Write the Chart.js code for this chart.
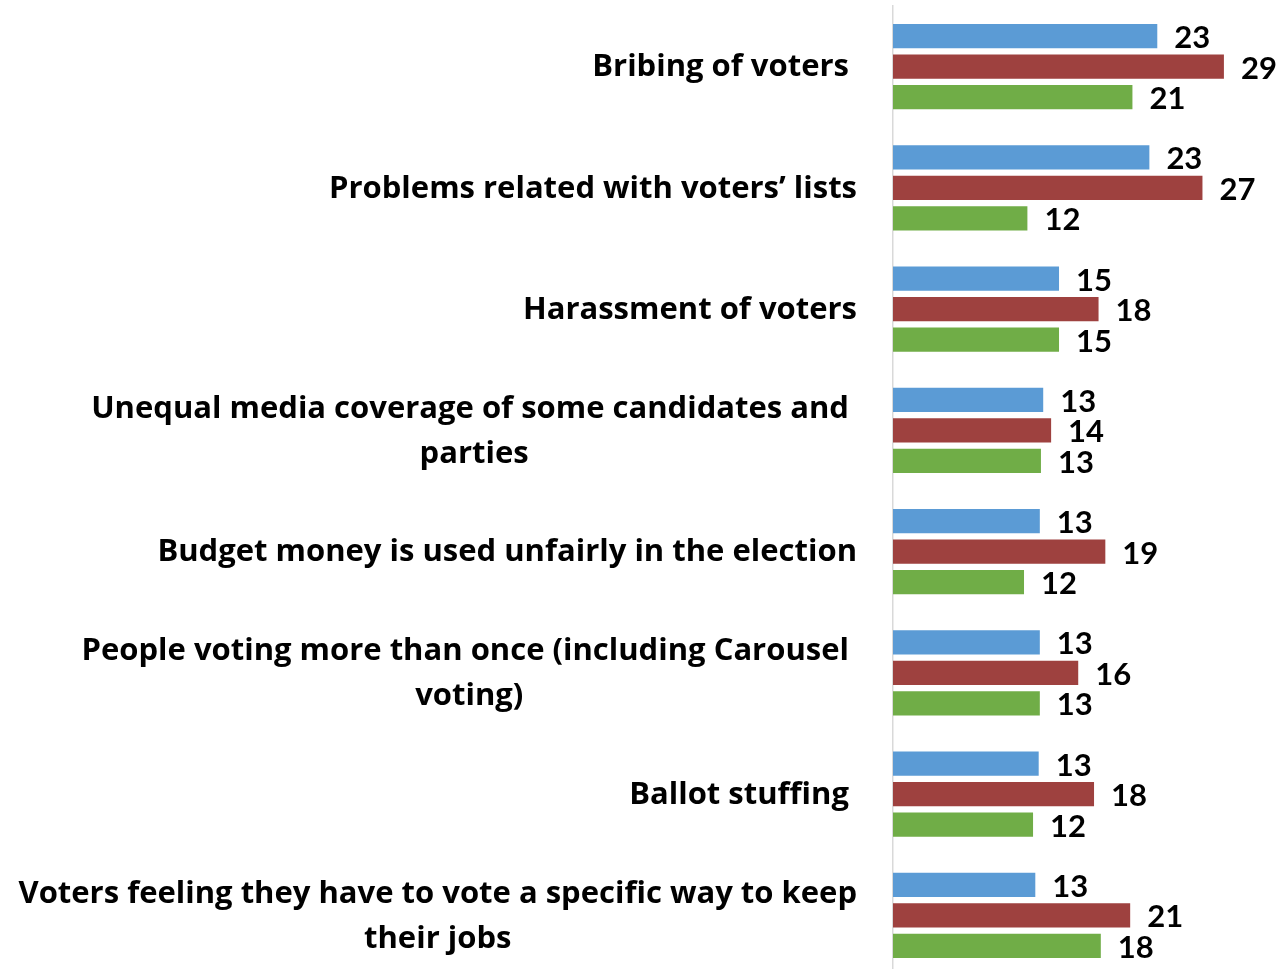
<!DOCTYPE html>
<html>
<head>
<meta charset="utf-8">
<script src="https://cdn.jsdelivr.net/npm/chart.js@4"></script>
<style>
  html, body { margin: 0; padding: 0; background: #fff; overflow: hidden; }
  #wrap { position: relative; width: 1278px; height: 978px; }
</style>
</head>
<body>
<div id="wrap"><canvas id="chart"></canvas></div>
<script>
// categories (lines of each label)
const categories = [
    ['Bribing of voters '],
    ['Problems related with voters\u2019 lists'],
    ['Harassment of voters'],
    ['Unequal media coverage of some candidates and ', 'parties'],
    ['Budget money is used unfairly in the election'],
    ['People voting more than once (including Carousel ', 'voting)'],
    ['Ballot stuffing '],
    ['Voters feeling they have to vote a specific way to keep', 'their jobs']
];

// series values
const series1 = [23.4, 22.7, 14.7, 13.3, 13.0, 13.0, 12.9, 12.6];
const series2 = [29.3, 27.4, 18.2, 14.0, 18.8, 16.4, 17.8, 21.0];
const series3 = [21.2, 11.9, 14.7, 13.1, 11.6, 13.0, 12.4, 18.4];

const seriesNames = ['Series 1', 'Series 2', 'Series 3'];
const seriesColors = ['#5B9BD5', '#9E413F', '#70AD47'];

const LABEL_FONT = 'bold 31px "Open Sans"';
const VALUE_FONT = 'bold 31px Lato';

// category labels on the left, lines centred on the widest line, right edge fixed
const categoryLabels = {
    id: 'categoryLabels',
    afterDraw(chart) {
        const ctx = chart.ctx;
        const yScale = chart.scales.y;
        const right = chart.chartArea.left - 36;
        const lineH = 45;
        ctx.save();
        ctx.font = LABEL_FONT;
        ctx.fillStyle = '#000';
        ctx.textAlign = 'center';
        ctx.textBaseline = 'middle';
        categories.forEach((lines, i) => {
            const cy = yScale.getPixelForValue(i) + 1;
            const maxW = Math.max(...lines.map(l => ctx.measureText(l).width));
            const cx = right - maxW / 2;
            const top = cy - (lines.length - 1) * lineH / 2;
            lines.forEach((l, j) => {
                const w = ctx.measureText(l).width;
                const lw = ctx.measureText(l.trimEnd()).width;
                // keep trailing spaces in the centring, draw the visible part
                ctx.fillText(l.trimEnd(), cx - (w - lw) / 2, top + j * lineH);
            });
        });
        ctx.restore();
    }
};

// value labels at the end of each bar
const valueLabels = {
    id: 'valueLabels',
    afterDatasetsDraw(chart) {
        const ctx = chart.ctx;
        ctx.save();
        ctx.font = VALUE_FONT;
        ctx.fillStyle = '#000';
        ctx.textAlign = 'left';
        ctx.textBaseline = 'middle';
        chart.data.datasets.forEach((ds, di) => {
            const meta = chart.getDatasetMeta(di);
            meta.data.forEach((bar, i) => {
                ctx.fillText(String(Math.round(ds.data[i])), bar.x + 17, bar.y + 2);
            });
        });
        ctx.restore();
    }
};

new Chart(document.getElementById('chart'), {
    type: 'bar',
    data: {
        labels: categories,
        datasets: [series1, series2, series3].map((d, i) => ({
            label: seriesNames[i],
            data: d,
            backgroundColor: seriesColors[i],
            borderWidth: 0,
            categoryPercentage: 0.755,
            barPercentage: 0.79
        }))
    },
    options: {
        indexAxis: 'y',
        responsive: true,
        maintainAspectRatio: false,
        animation: false,
        layout: { padding: { top: 6, bottom: 2, left: 0, right: 1 } },
        plugins: {
            legend: { display: false },
            tooltip: { enabled: false }
        },
        scales: {
            x: {
                display: false,
                min: 0,
                max: 34
            },
            y: {
                grid: { display: false, drawTicks: false },
                border: { display: true, color: '#d9d9d9', width: 1.5 },
                ticks: { display: false },
                afterFit(scale) { scale.width = 893; }
            }
        }
    },
    plugins: [categoryLabels, valueLabels]
});
</script>
</body>
</html>
